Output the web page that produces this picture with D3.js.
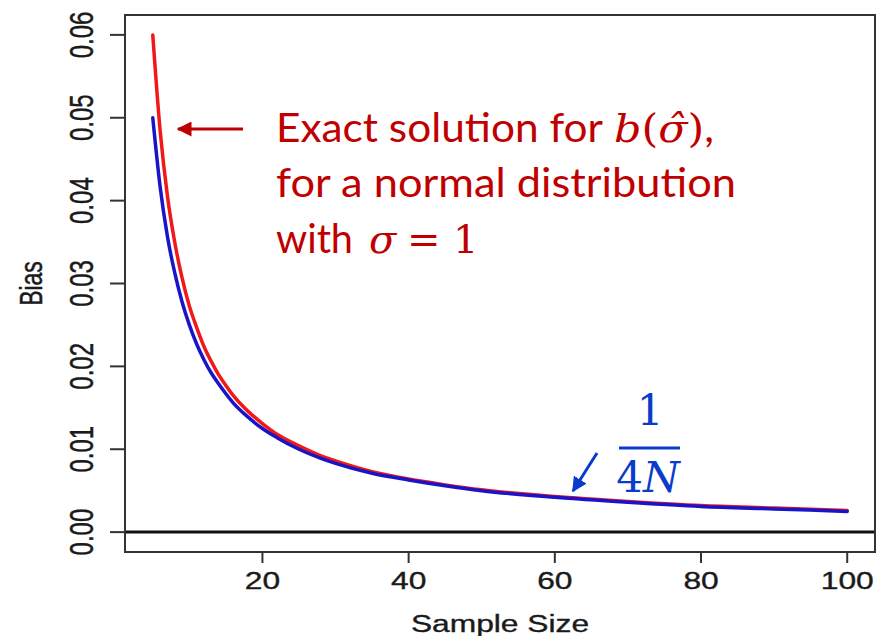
<!DOCTYPE html>
<html>
<head>
<meta charset="utf-8">
<script src="https://cdn.jsdelivr.net/npm/d3@7"></script>
<style>
  body { margin: 0; background: #fff; }
  svg { display: block; }
</style>
</head>
<body>
<div id="chart"></div>
<script>
// sample sizes and the two bias curves
var sampleSize = [5, 6, 7, 8, 9, 10, 11, 12, 13, 14, 15, 16, 18, 20, 22, 25, 28, 30, 35, 40, 45, 50, 60, 70, 80, 90, 100];
var exactBias  = [0.0600, 0.0485, 0.0406, 0.0350, 0.0307, 0.0273, 0.0247, 0.0224, 0.0206, 0.0190, 0.0177, 0.0165, 0.0146, 0.0131, 0.0118, 0.0104, 0.0092, 0.0086, 0.0073, 0.0064, 0.0057, 0.0051, 0.0043, 0.0037, 0.0032, 0.0029, 0.0026];
var approxBias = [0.0500, 0.0417, 0.0357, 0.0313, 0.0278, 0.0250, 0.0227, 0.0208, 0.0192, 0.0179, 0.0167, 0.0156, 0.0139, 0.0125, 0.0114, 0.0100, 0.0089, 0.0083, 0.0071, 0.0063, 0.0056, 0.0050, 0.0042, 0.0036, 0.0031, 0.0028, 0.0025];
var xTicks = [20, 40, 60, 80, 100];
var yTicks = [0, 0.01, 0.02, 0.03, 0.04, 0.05, 0.06];

(function() {
    var width = 880, height = 636;
    var left = 125, right = 875, top = 15, bottom = 552;
    var stretch = 1.38;  // the R plot was stretched sideways

    var svg = d3.select("#chart").append("svg")
        .attr("width", width)
        .attr("height", height);

    // R style: 4% padding on each side of the data range
    var xPad = (100 - 5) * 0.04, yPad = 0.06 * 0.04;
    var x = d3.scaleLinear().domain([5 - xPad, 100 + xPad]).range([left, right]);
    var y = d3.scaleLinear().domain([0 - yPad, 0.06 + yPad]).range([bottom, top]);

    var axisColor = "#333";
    var tickFont = "'Liberation Sans', Arial, sans-serif";

    function labelStyle(sel, size) {
        sel.attr("font-family", tickFont)
            .attr("font-size", size)
            .attr("fill", "#1a1a1a")
            .attr("stroke", "#1a1a1a")
            .attr("stroke-width", 0.35);
    }

    //y ticks
    svg.append("g").selectAll("line")
        .data(yTicks).enter().append("line")
        .attr("x1", left - 15).attr("x2", left)
        .attr("y1", function(d) { return y(d); })
        .attr("y2", function(d) { return y(d); })
        .attr("stroke", axisColor).attr("stroke-width", 2);

    svg.append("g").selectAll("text")
        .data(yTicks).enter().append("text")
        .attr("transform", function(d) {
            return "translate(93," + y(d) + ") scale(" + stretch + ",1) rotate(-90)";
        })
        .attr("text-anchor", "middle")
        .call(labelStyle, 24)
        .text(function(d) { return d3.format(".2f")(d); });

    //x ticks
    svg.append("g").selectAll("line")
        .data(xTicks).enter().append("line")
        .attr("x1", function(d) { return x(d); })
        .attr("x2", function(d) { return x(d); })
        .attr("y1", bottom).attr("y2", bottom + 11)
        .attr("stroke", axisColor).attr("stroke-width", 2);

    svg.append("g").selectAll("text")
        .data(xTicks).enter().append("text")
        .attr("transform", function(d) {
            return "translate(" + x(d) + ",589) scale(" + stretch + ",1)";
        })
        .attr("text-anchor", "middle")
        .call(labelStyle, 23)
        .text(function(d) { return d; });

    //axis titles
    svg.append("text")
        .attr("transform", "translate(" + (left + right) / 2 + ",632) scale(" + stretch + ",1)")
        .attr("text-anchor", "middle")
        .call(labelStyle, 23)
        .text("Sample Size");

    svg.append("text")
        .attr("transform", "translate(42," + (top + bottom) / 2 + ") scale(" + stretch + ",1) rotate(-90)")
        .attr("text-anchor", "middle")
        .call(labelStyle, 23)
        .text("Bias");

    //curves
    var line = d3.line()
        .x(function(d) { return x(d[0]); })
        .y(function(d) { return y(d[1]); })
        .curve(d3.curveMonotoneX);

    svg.append("path")
        .datum(d3.zip(sampleSize, exactBias))
        .attr("d", line)
        .attr("fill", "none")
        .attr("stroke", "#f01818")
        .attr("stroke-width", 3.5)
        .attr("stroke-linecap", "round");

    svg.append("path")
        .datum(d3.zip(sampleSize, approxBias))
        .attr("d", line)
        .attr("fill", "none")
        .attr("stroke", "#1a14c8")
        .attr("stroke-width", 3.5)
        .attr("stroke-linecap", "round");

    //zero line
    svg.append("line")
        .attr("x1", left).attr("x2", right)
        .attr("y1", y(0)).attr("y2", y(0))
        .attr("stroke", "#111").attr("stroke-width", 3);

    //plot box
    svg.append("rect")
        .attr("x", left).attr("y", top)
        .attr("width", right - left).attr("height", bottom - top)
        .attr("fill", "none")
        .attr("stroke", axisColor).attr("stroke-width", 2);

    // annotations
    var red = "#c00000", blue = "#0a3ccc";
    var sans = "Lato, 'Open Sans', sans-serif";
    var serif = "'DejaVu Serif', 'Liberation Serif', serif";

    svg.append("defs").selectAll("marker")
        .data([["headRed", red], ["headBlue", blue]])
        .enter().append("marker")
        .attr("id", function(d) { return d[0]; })
        .attr("viewBox", "0 0 10 10")
        .attr("refX", 9).attr("refY", 5)
        .attr("markerWidth", 5).attr("markerHeight", 5)
        .attr("markerUnits", "strokeWidth")
        .attr("orient", "auto")
        .append("path")
        .attr("d", "M0,0 L10,5 L0,10 Z")
        .attr("fill", function(d) { return d[1]; });

    svg.append("line")
        .attr("x1", 243).attr("y1", 129).attr("x2", 178).attr("y2", 129)
        .attr("stroke", red).attr("stroke-width", 3)
        .attr("marker-end", "url(#headRed)");

    svg.append("line")
        .attr("x1", 597).attr("y1", 453).attr("x2", 573).attr("y2", 491)
        .attr("stroke", blue).attr("stroke-width", 3)
        .attr("marker-end", "url(#headBlue)");

    function sansLine(txt, x0, y0, len) {
        svg.append("text")
            .attr("x", x0).attr("y", y0)
            .attr("font-family", sans).attr("font-size", 40)
            .attr("fill", red)
            .attr("textLength", len).attr("lengthAdjust", "spacingAndGlyphs")
            .text(txt);
    }
    sansLine("Exact solution for", 276, 142, 327);
    sansLine("for a normal distribution", 276, 197, 460);
    sansLine("with", 276, 253, 77);

    var bt = svg.append("text")
        .attr("x", 614).attr("y", 142)
        .attr("font-family", serif).attr("font-size", 40)
        .attr("fill", red)
        .attr("textLength", 100).attr("lengthAdjust", "spacingAndGlyphs");
    bt.append("tspan").attr("font-style", "italic").text("b");
    bt.append("tspan").text("(");
    bt.append("tspan").attr("font-style", "italic").text("\u03c3\u0302");
    bt.append("tspan").text(")");
    bt.append("tspan").attr("font-family", sans).text(",");

    svg.append("text")
        .attr("x", 369).attr("y", 253)
        .attr("font-family", serif).attr("font-size", 40)
        .attr("font-style", "italic").attr("fill", red)
        .text("\u03c3");
    svg.append("text")
        .attr("x", 407).attr("y", 253)
        .attr("font-family", serif).attr("font-size", 40)
        .attr("fill", red)
        .text("=");
    svg.append("text")
        .attr("x", 453).attr("y", 253)
        .attr("font-family", serif).attr("font-size", 40)
        .attr("fill", red)
        .text("1");

    //1/(4N)
    svg.append("text")
        .attr("x", 650).attr("y", 425)
        .attr("text-anchor", "middle")
        .attr("font-family", serif).attr("font-size", 42)
        .attr("fill", blue)
        .text("1");
    svg.append("line")
        .attr("x1", 619).attr("x2", 680).attr("y1", 448).attr("y2", 448)
        .attr("stroke", blue).attr("stroke-width", 3);
    var fr = svg.append("text")
        .attr("x", 648).attr("y", 492)
        .attr("text-anchor", "middle")
        .attr("font-family", serif).attr("font-size", 42)
        .attr("fill", blue);
    fr.append("tspan").text("4");
    fr.append("tspan").attr("font-style", "italic").text("N");
})();
</script>
</body>
</html>
